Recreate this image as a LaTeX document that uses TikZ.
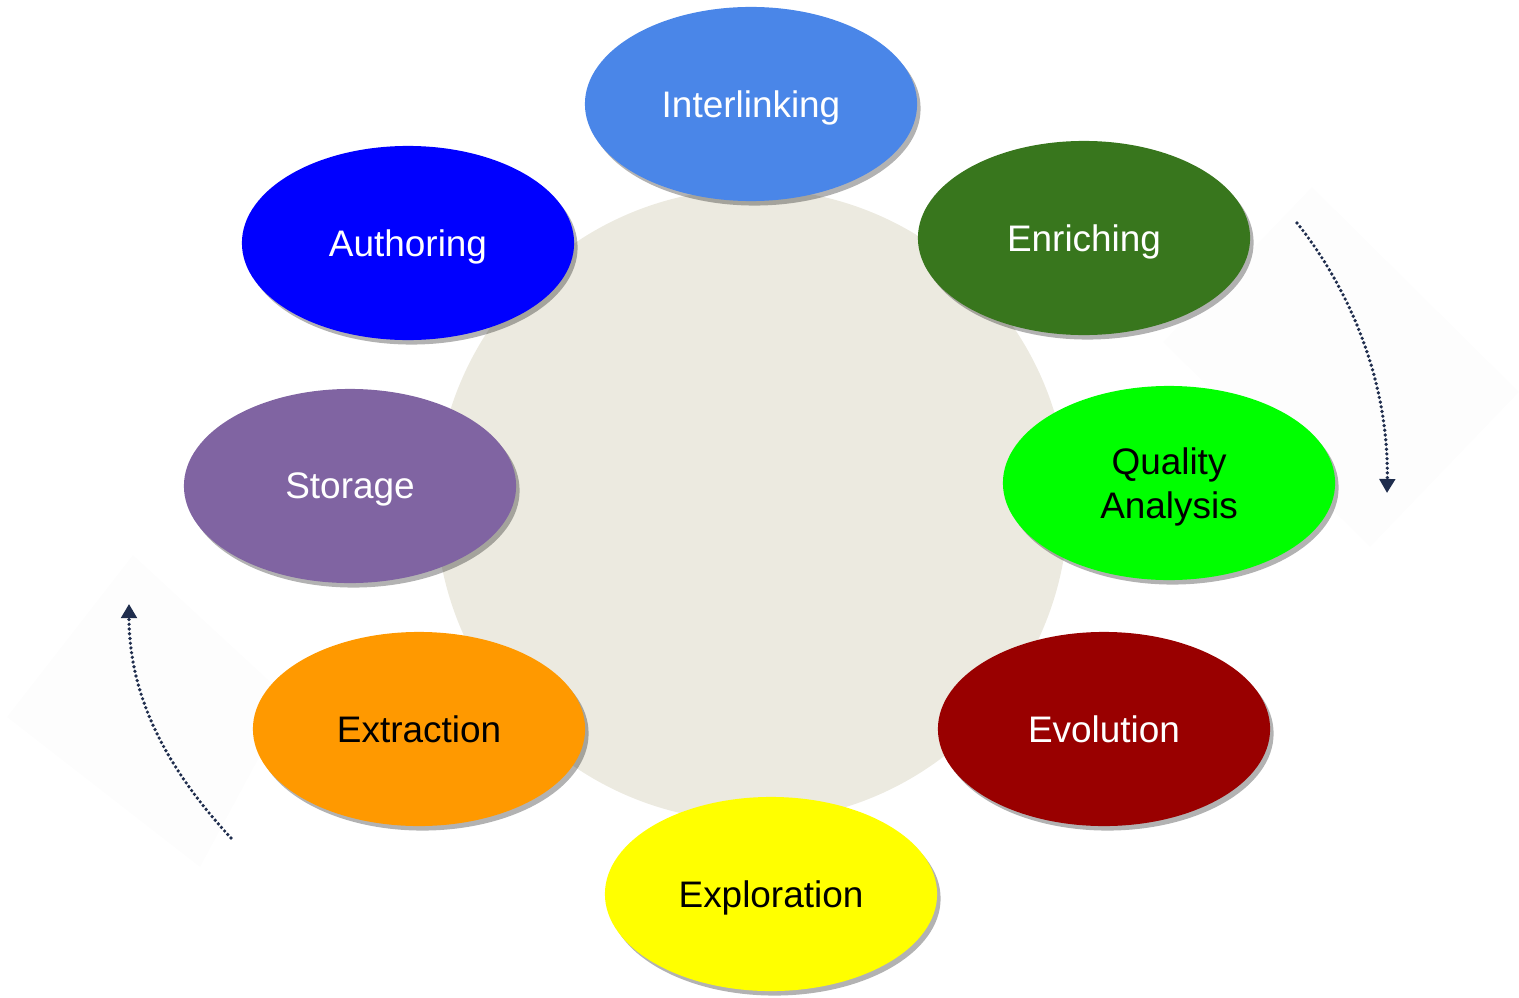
\documentclass[tikz,border=0pt]{standalone}
\usepackage{fontspec}
\setmainfont{Liberation Sans}
\usetikzlibrary{shapes.geometric,shadows,arrows.meta}
\definecolor{hubc}{HTML}{ECEAE0}
\definecolor{cInter}{HTML}{4A86E8}
\definecolor{cAuth}{HTML}{0000FF}
\definecolor{cEnr}{HTML}{38761D}
\definecolor{cQual}{HTML}{00FF00}
\definecolor{cStor}{HTML}{8064A2}
\definecolor{cExtr}{HTML}{FF9900}
\definecolor{cEvol}{HTML}{990000}
\definecolor{cExpl}{HTML}{FFFF00}
\definecolor{arrc}{HTML}{1F2D4D}
\definecolor{faint}{HTML}{FDFDFD}
\tikzset{
  stage/.style={ellipse, minimum width=3.32cm, minimum height=1.94cm, inner sep=0pt,
    align=center, font=\fontsize{10.5}{12.5}\selectfont, text depth=0pt,
    drop shadow={shadow xshift=0.035cm, shadow yshift=-0.045cm, opacity=0.3, fill=black}},
  cyclearrow/.style={draw=arrc, line width=1.05pt, line cap=round,
    dash pattern=on 0pt off 1.35pt, -{Triangle[length=4pt,width=4.4pt,line cap=butt]}}
}
\begin{document}
\begin{tikzpicture}[x=0.01cm,y=-0.01cm]
\useasboundingbox (0,0) rectangle (1519,997);
% faint panels behind arrows
\fill[faint] (1312,187) -- (1519,392) -- (1370,547) -- (1163,342) -- cycle;
\fill[faint] (133,555) -- (290,700) -- (200,867) -- (7,717) -- cycle;
% hub
\node[circle, fill=hubc, minimum size=6.32cm, inner sep=0pt] (hub) at (752,505) {};
% stages
\node[stage, fill=cInter, text=white] (inter) at (751,104) {Interlinking};
\node[stage, fill=cAuth, text=white] (auth) at (408,243) {Authoring};
\node[stage, fill=cEnr, text=white] (enr) at (1084,238) {Enriching};
\node[stage, fill=cQual, text=black] (qual) at (1169,483) {Quality\\Analysis};
\node[stage, fill=cStor, text=white] (stor) at (350,486) {Storage};
\node[stage, fill=cExtr, text=black] (extr) at (419,729) {Extraction};
\node[stage, fill=cEvol, text=white] (evol) at (1104,729) {Evolution};
\node[stage, fill=cExpl, text=black] (expl) at (771,894) {Exploration};
% cycle arrows
\coordinate (rs) at (1297,223);
\coordinate (re) at (1387,493);
\coordinate (ls) at (231,838);
\coordinate (le) at (129,604);
\draw[cyclearrow] (rs) .. controls (1352,292) and (1389,385) .. (re);
\draw[cyclearrow] (ls) .. controls (170,772) and (129,700) .. (le);
\end{tikzpicture}
\end{document}
